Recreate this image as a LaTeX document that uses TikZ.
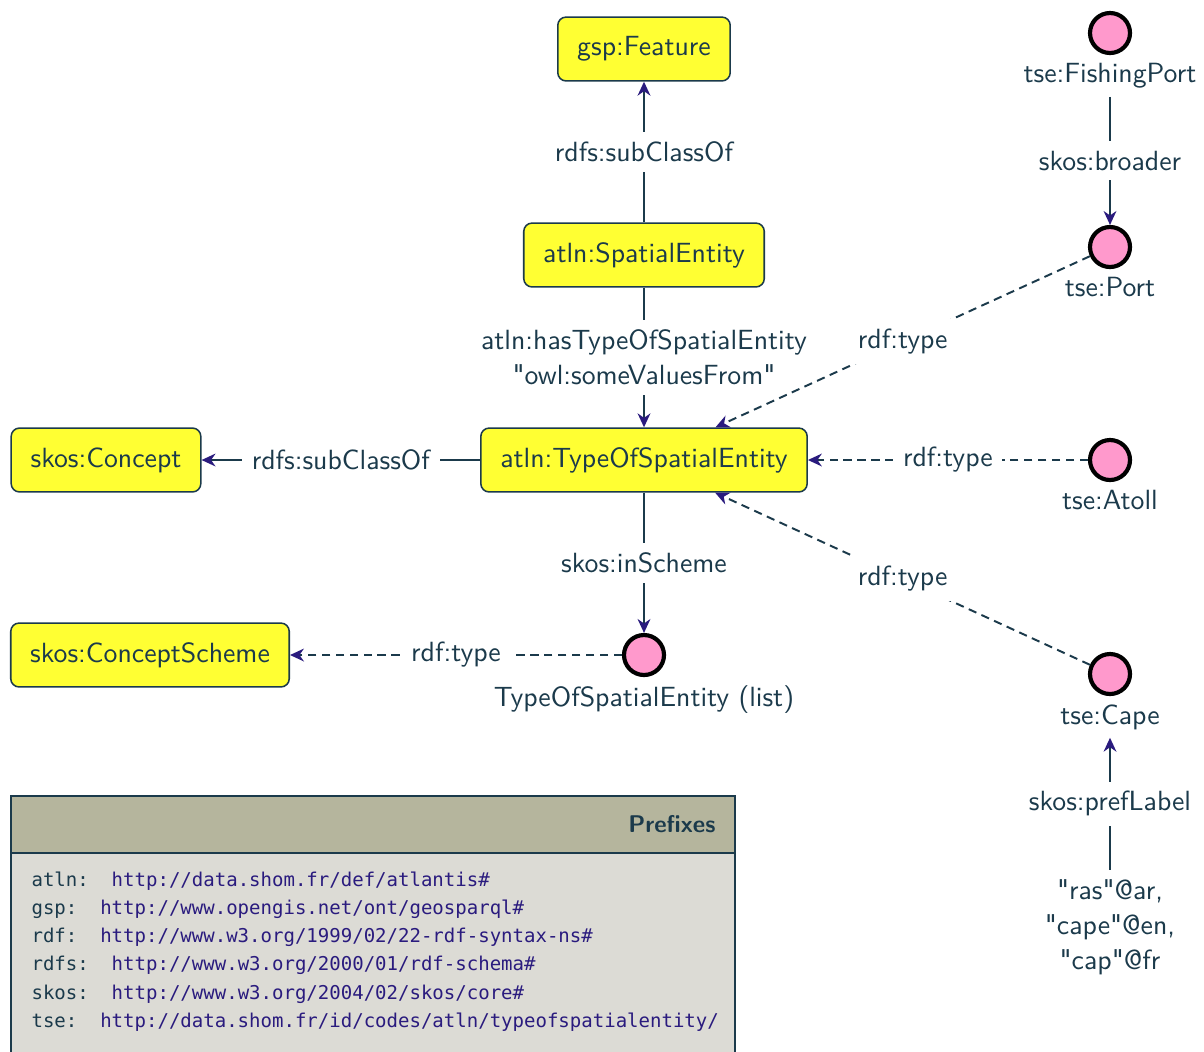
\documentclass[tikz,border=0pt]{standalone}
\usepackage{fontspec}
\newfontfamily\monofam{DejaVu Sans Mono}
\usetikzlibrary{arrows.meta,positioning}
\definecolor{txt}{HTML}{1B3A4B}
\definecolor{arr}{HTML}{2A1B7E}
\definecolor{yel}{HTML}{FFFF33}
\definecolor{pnk}{HTML}{FF99CC}
\definecolor{hdr}{HTML}{B5B59D}
\definecolor{bodyc}{HTML}{DCDBD5}
\newcommand\diagfont{\sffamily\fontsize{10}{12.6}\selectfont}
\newcommand\pfxfont{\monofam\fontsize{6.85}{10}\selectfont}
\newcommand\qq{\textquotedbl}
\tikzset{
  cls/.style={draw=txt, fill=yel, rounded corners=3pt, line width=0.55pt,
    minimum height=23pt, inner xsep=7pt, text=txt, font=\diagfont},
  ind/.style={circle, draw=black, fill=pnk, line width=1.5pt,
    minimum size=14.4pt, inner sep=0pt},
  lbl/.style={text=txt, font=\diagfont, inner sep=2.8pt, align=center},
  elab/.style={fill=white, text=txt, font=\diagfont, inner sep=3.5pt, align=center},
  rel/.style={draw=txt, line width=0.7pt,
    -{Stealth[length=5pt,width=4.6pt,inset=1.6pt,color=arr]}},
  drel/.style={rel, dash pattern=on 3pt off 2pt},
  pfx/.style={anchor=west, font=\pfxfont, inner sep=0pt}
}
\begin{document}
\begin{tikzpicture}[x=0.36pt,y=-0.36pt]
\useasboundingbox (0,0) rectangle (1204,1051);
\clip (0,0) rectangle (1204,1051);
\fill[white] (0,0) rectangle (1204,1051);

% class nodes
\node[cls] (feat) at (644,49) {gsp:Feature};
\node[cls] (se) at (644,255) {atln:SpatialEntity};
\node[cls] (tose) at (644,460) {atln:TypeOfSpatialEntity};
\node[cls] (concept) at (106,460) {skos:Concept};
\node[cls] (scheme) at (150,655) {skos:ConceptScheme};

% individuals
\node[ind] (list) at (644,655) {};
\node[lbl, below=0pt of list] (listl) {TypeOfSpatialEntity (list)};
\node[ind] (fp) at (1110,33) {};
\node[lbl, below=0pt of fp] (fpl) {tse:FishingPort};
\node[ind] (port) at (1110,247) {};
\node[lbl, below=0pt of port] (portl) {tse:Port};
\node[ind] (atoll) at (1110,460) {};
\node[lbl, below=0pt of atoll] (atolll) {tse:Atoll};
\node[ind] (cape) at (1110,674) {};
\node[lbl, below=0pt of cape] (capel) {tse:Cape};
\node[lbl, inner sep=3.3pt] (lit) at (1110,927) {\qq ras\qq @ar,\\\qq cape\qq @en,\\\qq cap\qq @fr};

% connectors
\draw[rel] (se) -- node[elab] (e1) {rdfs:subClassOf} (feat);
\draw[rel] (se) -- node[elab] (e2) {atln:hasTypeOfSpatialEntity\\\qq owl:someValuesFrom\qq} (tose);
\draw[rel] (tose) -- node[elab] (e3) {rdfs:subClassOf} (concept);
\draw[rel] (tose) -- node[elab] (e4) {skos:inScheme} (list);
\draw[drel] (list) -- node[elab] (e5) {rdf:type} (scheme);
\draw[rel] (fpl) -- node[elab] (e6) {skos:broader} (port);
\draw[drel] (port) -- node[elab] (e7) {rdf:type} (tose);
\draw[drel] (atoll) -- node[elab] (e8) {rdf:type} (tose);
\draw[drel] (cape) -- node[elab] (e9) {rdf:type} (tose);
\draw[rel] (lit) -- node[elab] (e10) {skos:prefLabel} (capel);

% prefixes box
\fill[bodyc] (11,853) rectangle (735,1070);
\fill[hdr] (11,796) rectangle (735,853);
\draw[txt, line width=0.6pt] (11,1070) -- (11,796) -- (735,796) -- (735,1070);
\draw[txt, line width=0.6pt] (11,853) -- (735,853);
\node[anchor=east, inner sep=0pt, text=txt, font=\sffamily\bfseries\fontsize{8.7}{11}\selectfont] (ptitle) at (716,824) {Prefixes};
\node[pfx] (p1) at (31,881) {\textcolor{txt}{atln:\ \ }\textcolor{arr}{http://data.shom.fr/def/atlantis\#}};
\node[pfx] (p2) at (31,909) {\textcolor{txt}{gsp:\ \ }\textcolor{arr}{http://www.opengis.net/ont/geosparql\#}};
\node[pfx] (p3) at (31,937) {\textcolor{txt}{rdf:\ \ }\textcolor{arr}{http://www.w3.org/1999/02/22-rdf-syntax-ns\#}};
\node[pfx] (p4) at (31,965) {\textcolor{txt}{rdfs:\ \ }\textcolor{arr}{http://www.w3.org/2000/01/rdf-schema\#}};
\node[pfx] (p5) at (31,994) {\textcolor{txt}{skos:\ \ }\textcolor{arr}{http://www.w3.org/2004/02/skos/core\#}};
\node[pfx] (p6) at (31,1022) {\textcolor{txt}{tse:\ \ }\textcolor{arr}{http://data.shom.fr/id/codes/atln/typeofspatialentity/}};
\end{tikzpicture}
\end{document}
